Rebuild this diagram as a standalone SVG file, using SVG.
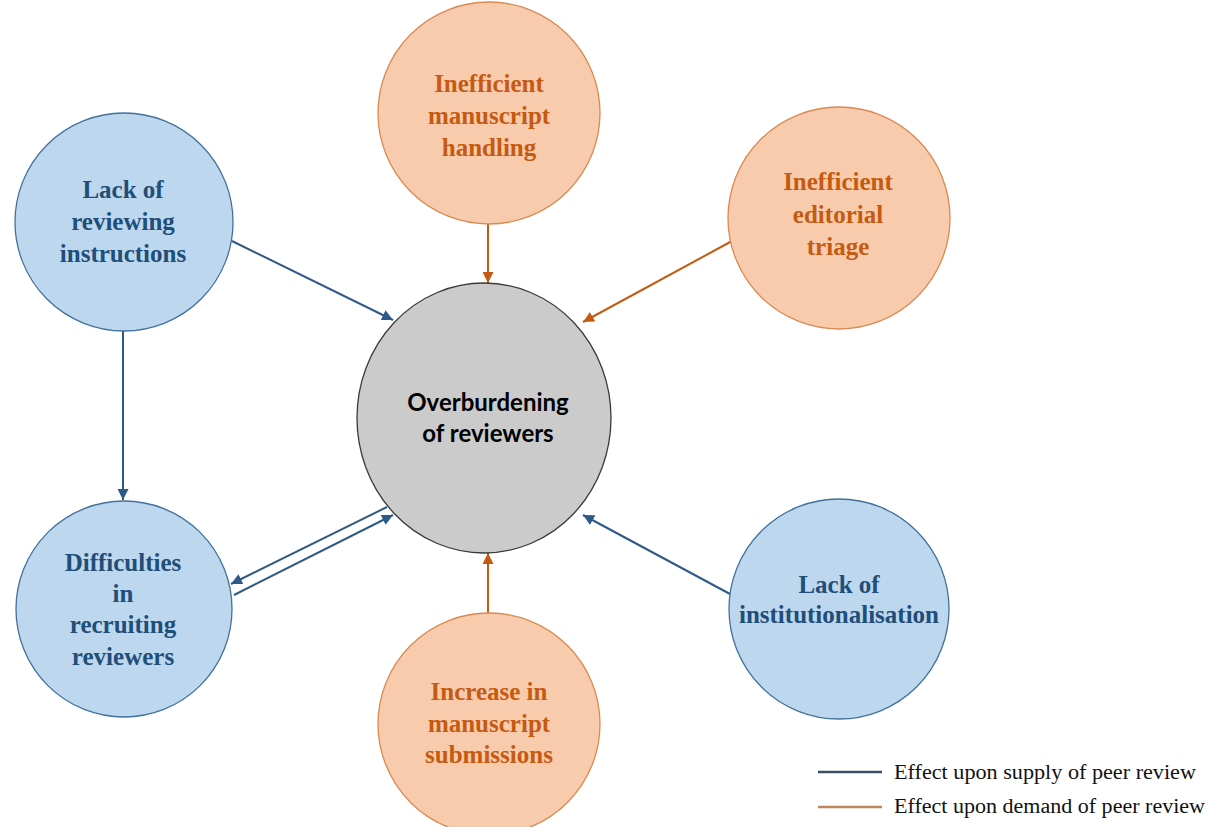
<svg xmlns="http://www.w3.org/2000/svg" width="1209" height="827" viewBox="0 0 1209 827">
<style>
.blue{fill:#BDD7EE;stroke:#41719C;stroke-width:1.3}
.orange{fill:#F8CBAD;stroke:#D98A52;stroke-width:1.3}
.center{fill:#CBCBCB;stroke:#3A3A3A;stroke-width:1.3}
.tb{font-family:"Liberation Serif","Times New Roman",serif;font-weight:bold;font-size:25px;fill:#1F4E79;text-anchor:middle}
.to{font-family:"Liberation Serif","Times New Roman",serif;font-weight:bold;font-size:25px;fill:#C55A11;text-anchor:middle}
.tc{font-family:Lato,"Open Sans",sans-serif;font-weight:bold;font-size:24px;fill:#000;text-anchor:middle}
.ab{stroke:#2E5A88;stroke-width:2;fill:none}
.ao{stroke:#C65911;stroke-width:2;fill:none}
.leg{font-family:"Liberation Serif","Times New Roman",serif;font-size:20px;fill:#111}
</style>
<defs>
<marker id="mb" viewBox="0 0 10 10" refX="10" refY="5" markerWidth="5.5" markerHeight="5.5" orient="auto" markerUnits="strokeWidth">
<path d="M0,0 L10,5 L0,10 z" fill="#2E5A88"/>
</marker>
<marker id="mo" viewBox="0 0 10 10" refX="10" refY="5" markerWidth="5.5" markerHeight="5.5" orient="auto" markerUnits="strokeWidth">
<path d="M0,0 L10,5 L0,10 z" fill="#C65911"/>
</marker>
</defs>
<rect width="1209" height="827" fill="#fff"/>

<g id="connectors">
<line class="ao" x1="488" y1="224" x2="488" y2="283" marker-end="url(#mo)"/>
<line class="ao" x1="732" y1="241" x2="583" y2="322" marker-end="url(#mo)"/>
<line class="ab" x1="232" y1="241" x2="393" y2="320" marker-end="url(#mb)"/>
<line class="ab" x1="123" y1="330" x2="123" y2="500" marker-end="url(#mb)"/>
<line class="ab" x1="387" y1="507" x2="231" y2="584" marker-end="url(#mb)"/>
<line class="ab" x1="234" y1="595" x2="393" y2="515" marker-end="url(#mb)"/>
<line class="ao" x1="488" y1="613" x2="488" y2="553" marker-end="url(#mo)"/>
<line class="ab" x1="730" y1="594" x2="583" y2="515" marker-end="url(#mb)"/>
</g>

<g id="node-center">
<ellipse class="center" cx="484" cy="418" rx="127" ry="135"/>
<text class="tc" x="488" y="411">Overburdening</text>
<text class="tc" x="488" y="442">of reviewers</text>
</g>

<g id="node-manuscript-handling">
<circle class="orange" cx="489" cy="113" r="111"/>
<text class="to" x="489" y="92">Inefficient</text>
<text class="to" x="489" y="124">manuscript</text>
<text class="to" x="489" y="156">handling</text>
</g>

<g id="node-editorial-triage">
<circle class="orange" cx="839" cy="218" r="111"/>
<text class="to" x="838" y="190">Inefficient</text>
<text class="to" x="838" y="223">editorial</text>
<text class="to" x="838" y="255">triage</text>
</g>

<g id="node-reviewing-instructions">
<circle class="blue" cx="124" cy="222" r="109"/>
<text class="tb" x="123" y="198">Lack of</text>
<text class="tb" x="123" y="230">reviewing</text>
<text class="tb" x="123" y="262">instructions</text>
</g>

<g id="node-recruiting">
<circle class="blue" cx="124" cy="609" r="108"/>
<text class="tb" x="123" y="571">Difficulties</text>
<text class="tb" x="123" y="602">in</text>
<text class="tb" x="123" y="633">recruiting</text>
<text class="tb" x="123" y="665">reviewers</text>
</g>

<g id="node-institutionalisation">
<circle class="blue" cx="839" cy="609" r="110"/>
<text class="tb" x="839" y="593">Lack of</text>
<text class="tb" x="839" y="623">institutionalisation</text>
</g>

<g id="node-submissions">
<circle class="orange" cx="489" cy="724" r="111"/>
<text class="to" x="489" y="700">Increase in</text>
<text class="to" x="489" y="732">manuscript</text>
<text class="to" x="489" y="763">submissions</text>
</g>

<g id="legend">
<line x1="818" y1="772" x2="882" y2="772" stroke="#3B5068" stroke-width="2.5"/>
<text class="leg" x="894" y="779" textLength="302" lengthAdjust="spacingAndGlyphs">Effect upon supply of peer review</text>
<line x1="818" y1="807" x2="882" y2="807" stroke="#C0875A" stroke-width="2.5"/>
<text class="leg" x="894" y="813" textLength="311" lengthAdjust="spacingAndGlyphs">Effect upon demand of peer review</text>
</g>
</svg>
